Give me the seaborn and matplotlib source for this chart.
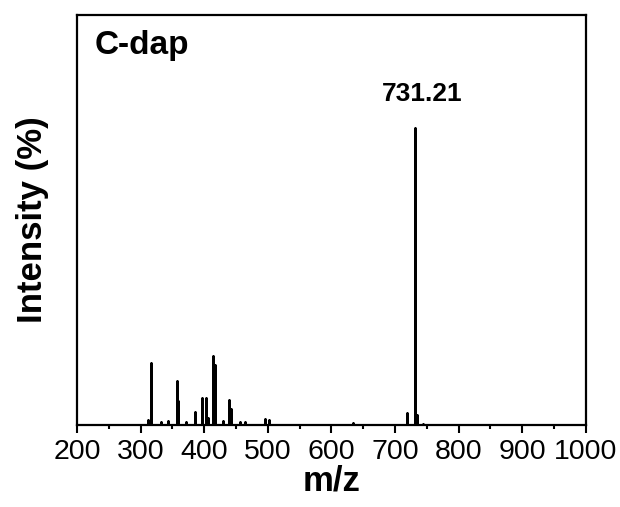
import matplotlib
matplotlib.use("Agg")
import matplotlib.pyplot as plt
from matplotlib.ticker import MultipleLocator
import seaborn as sns
import pandas as pd

# Peak list (m/z, relative intensity %)
peak_mz = [312, 316, 331.5, 343.5, 356.6, 359, 371.3, 385.5, 396, 402.8, 406.4,
           414.3, 417, 429, 438.9, 441.6, 456, 465, 495.5, 502, 634, 719, 731.2, 734, 744]
peak_int = [1.7, 21.0, 0.8, 1.3, 14.8, 8.0, 1.1, 4.4, 9.0, 9.0, 2.2,
            23.2, 20.0, 1.3, 8.4, 5.5, 1.1, 1.1, 2.0, 1.5, 0.6, 4.1, 100.0, 3.4, 0.4]
x_range = [200, 1000]
x_ticks = [200, 300, 400, 500, 600, 700, 800, 900, 1000]
sample_label = "C-dap"
base_label = "731.21"

sns.set_theme(style="ticks")
plt.rcParams["font.family"] = ["Liberation Sans", "DejaVu Sans"]
plt.rcParams["text.color"] = "black"
plt.rcParams["axes.labelcolor"] = "black"
plt.rcParams["xtick.color"] = "black"
plt.rcParams["ytick.color"] = "black"

# stick representation of the spectrum
xs, ys = [x_range[0]], [0.0]
for m, v in zip(peak_mz, peak_int):
    xs += [m, m, m]
    ys += [0.0, v, 0.0]
xs.append(x_range[1])
ys.append(0.0)
df = pd.DataFrame({"mz": xs, "intensity": ys})

fig = plt.figure(figsize=(6.2, 5.07), dpi=100)
ax = fig.add_axes([0.124, 0.162, 0.821, 0.808])
sns.lineplot(data=df, x="mz", y="intensity", sort=False, estimator=None,
             color="black", linewidth=1.8, ax=ax)

ax.set_xlim(*x_range)
ax.set_ylim(0, 138)
ax.set_xticks(x_ticks)
ax.set_xticklabels([str(t) for t in x_ticks], fontsize=20.5)
ax.xaxis.set_minor_locator(MultipleLocator(50))
ax.set_yticks([])
ax.tick_params(axis="x", which="major", direction="out", length=6, width=1.5, pad=4)
ax.tick_params(axis="x", which="minor", direction="out", length=3, width=1.5)
for s in ax.spines.values():
    s.set_visible(True)
    s.set_linewidth(1.6)
    s.set_color("black")

ax.set_xlabel("m/z", fontsize=25, fontweight="bold", labelpad=0)
ax.set_ylabel("Intensity (%)", fontsize=25, fontweight="bold", labelpad=20)

ax.text(0.035, 0.965, sample_label, transform=ax.transAxes, ha="left", va="top",
        fontsize=24, fontweight="bold")
imax = peak_int.index(max(peak_int))
ax.annotate(base_label, xy=(peak_mz[imax], peak_int[imax]), xytext=(5, 16),
            textcoords="offset points", ha="center", va="bottom",
            fontsize=19, fontweight="bold")

fig.savefig("out.png", dpi=100)
